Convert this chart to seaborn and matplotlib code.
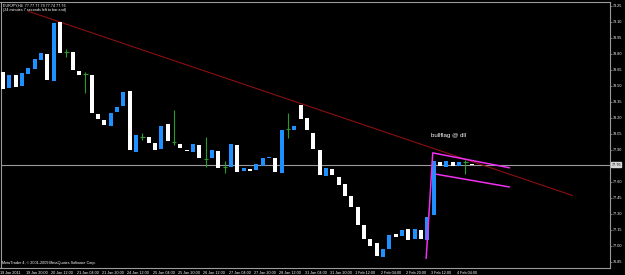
import numpy as np
import pandas as pd
import matplotlib
matplotlib.use("Agg")
import matplotlib.pyplot as plt
import matplotlib.transforms as mtransforms
import seaborn as sns

# ---------------------------------------------------
# datos (EURJPY H4)
# ---------------------------------------------------
OPENS = [78.63, 78.48, 78.60, 78.50, 78.61, 78.66, 78.74, 78.80, 78.54, 79.10,
         78.82, 78.82, 78.64, 78.61, 78.60, 78.23, 78.18, 78.12, 78.25, 78.31,
         78.45, 77.88, 78.02, 78.02, 77.96, 77.91, 78.14, 77.97, 77.95, 77.90,
         77.88, 77.94, 77.81, 77.82, 77.89, 77.74, 77.74, 77.94, 77.70, 77.72,
         77.71, 77.75, 77.82, 77.82, 77.68, 78.09, 78.08, 78.32, 78.20, 78.06,
         77.90, 77.65, 77.72, 77.64, 77.58, 77.47, 77.36, 77.19, 77.06, 77.02,
         76.89, 76.97, 77.11, 77.09, 77.16, 77.06, 77.15, 77.05, 77.29, 77.78,
         77.74, 77.78, 77.75, 77.78, 77.77]
CLOSES = [78.47, 78.60, 78.49, 78.62, 78.67, 78.75, 78.81, 78.55, 79.09, 78.81,
          78.82, 78.65, 78.60, 78.61, 78.24, 78.19, 78.13, 78.24, 78.30, 78.44,
          77.90, 78.04, 78.02, 77.96, 77.90, 78.12, 77.98, 77.97, 77.92, 77.89,
          77.95, 77.82, 77.81, 77.90, 77.73, 77.74, 77.95, 77.69, 77.73, 77.70,
          77.77, 77.82, 77.83, 77.69, 78.08, 78.09, 78.12, 78.19, 78.08, 77.91,
          77.66, 77.73, 77.66, 77.57, 77.47, 77.36, 77.19, 77.06, 77.00, 76.90,
          76.97, 77.10, 77.08, 77.15, 77.05, 77.16, 77.06, 77.27, 77.79, 77.75,
          77.79, 77.75, 77.78, 77.78, 77.76]

# velas doji (se ven como cruces verdes con mecha)
DOJI_BARS = [10, 13, 22, 27, 32, 35, 45, 73]
DOJI_HIGH = [78.84, 78.63, 78.06, 78.27, 78.02, 77.79, 78.24, 77.80]
DOJI_LOW = [78.77, 78.43, 77.99, 77.94, 77.74, 77.68, 78.01, 77.67]

X_LABELS = ["19 Jan 2011", "19 Jan 20:00", "20 Jan 12:00", "21 Jan 04:00",
            "21 Jan 20:00", "24 Jan 12:00", "25 Jan 04:00", "25 Jan 20:00",
            "26 Jan 12:00", "27 Jan 04:00", "27 Jan 20:00", "28 Jan 12:00",
            "31 Jan 04:00", "31 Jan 20:00", "1 Feb 12:00", "2 Feb 04:00",
            "2 Feb 20:00", "3 Feb 12:00", "4 Feb 04:00"]
PRICE_TICKS = [79.25, 79.10, 78.95, 78.80, 78.65, 78.50, 78.35, 78.20, 78.05,
               77.90, 77.60, 77.45, 77.30, 77.15, 77.00, 76.85]
BID = 77.76

# lineas dibujadas a mano (barra, precio)
TREND_BAR = [3.9, 89.9]
TREND_PRICE = [79.20, 77.47]
FLAG_TOP_BAR = [66.8, 67.84, 79.97]
FLAG_TOP_PRICE = [76.88, 77.87, 77.73]
FLAG_BOT_BAR = [68.36, 79.94]
FLAG_BOT_PRICE = [77.67, 77.55]
# ---------------------------------------------------

BLUE = "#1e90ff"
WHITE = "#ffffff"
GREEN = "#2a9a2a"
MAGENTA = "#f030f0"
DARKRED = "#8b1010"
GRID = "#9a9a9a"
SMALL = 2.7

sns.set_theme(style="dark", rc={
    "axes.facecolor": "black",
    "figure.facecolor": "black",
    "axes.edgecolor": GRID,
    "axes.linewidth": 0.8,
    "text.color": "white",
    "xtick.color": "white",
    "ytick.color": "white",
    "axes.grid": False,
})
plt.rcParams["font.family"] = ["Liberation Sans", "DejaVu Sans"]

df = pd.DataFrame({"bar": np.arange(len(OPENS)), "open": OPENS, "close": CLOSES})
df["bottom"] = df[["open", "close"]].min(axis=1)
df["height"] = (df["close"] - df["open"]).abs().clip(lower=0.009)
df["color"] = np.where(df["close"] > df["open"], BLUE, WHITE)
body = df[~df["bar"].isin(DOJI_BARS)]

fig = plt.figure(figsize=(6.25, 2.75), dpi=100)
ax = fig.add_axes([0.0008, 0.0255, 0.975, 0.969])

ax.bar(body["bar"], body["height"], bottom=body["bottom"], width=0.64,
       color=body["color"], linewidth=0, zorder=3)

doji_price = [OPENS[i] for i in DOJI_BARS]
ax.vlines(DOJI_BARS, DOJI_LOW, DOJI_HIGH, color=GREEN, lw=0.8, zorder=3)
ax.hlines(doji_price, np.array(DOJI_BARS) - 0.35, np.array(DOJI_BARS) + 0.35,
          color=GREEN, lw=0.8, zorder=3)

# linea de precio actual
ax.axhline(BID, color=GRID, lw=0.8, zorder=1)

sns.lineplot(x=TREND_BAR, y=TREND_PRICE, ax=ax, color=DARKRED, lw=0.8, zorder=2)
sns.lineplot(x=FLAG_TOP_BAR, y=FLAG_TOP_PRICE, ax=ax, color=MAGENTA, lw=1.1,
             sort=False, zorder=4)
sns.lineplot(x=FLAG_BOT_BAR, y=FLAG_BOT_PRICE, ax=ax, color=MAGENTA, lw=1.1, zorder=4)

ax.text(67.6, 78.03, "bullflag @ dll", color="white", fontsize=4.4, va="center", zorder=5)

ax.set_xlim(-0.2, 95.8)
ax.set_ylim(76.79, 79.29)

# eje x: etiqueta cada 4 barras
ax.set_xticks(np.arange(0, 4 * len(X_LABELS), 4) - 0.4)
ax.set_xticklabels(X_LABELS, ha="left", fontsize=SMALL)
ax.tick_params(axis="x", direction="out", length=2.0, width=0.5, color=GRID, pad=0.3)

ax.yaxis.tick_right()
ax.set_yticks(PRICE_TICKS)
ax.set_yticklabels([f"{p:.2f}" for p in PRICE_TICKS], fontsize=SMALL)
ax.tick_params(axis="y", direction="out", length=1.5, width=0.5, color=GRID, pad=0.6)
ax.set_xlabel("")
ax.set_ylabel("")

trans = mtransforms.blended_transform_factory(ax.transAxes, ax.transData)
ax.text(1.0025, BID, f"{BID:.2f}", transform=trans, fontsize=SMALL, color="black",
        va="center", ha="left", clip_on=False,
        bbox=dict(boxstyle="square,pad=0.15", fc="#d8d8d8", ec="#d8d8d8"))

ax.text(0.004, 0.993, "EURJPY,H4  77.77 77.79 77.74 77.76", transform=ax.transAxes,
        fontsize=SMALL, va="top", ha="left", color="white")
ax.text(0.004, 0.975, "(24 minutes 7 seconds left to bar end)", transform=ax.transAxes,
        fontsize=SMALL, va="top", ha="left", color="white")
ax.text(0.003, 0.012, "MetaTrader 4, \u00a9 2001-2009 MetaQuotes Software Corp.",
        transform=ax.transAxes, fontsize=SMALL, va="bottom", ha="left", color="white")

for side in ["top", "bottom", "left", "right"]:
    ax.spines[side].set_color(GRID)

fig.savefig("out.png", dpi=100, facecolor="black")
